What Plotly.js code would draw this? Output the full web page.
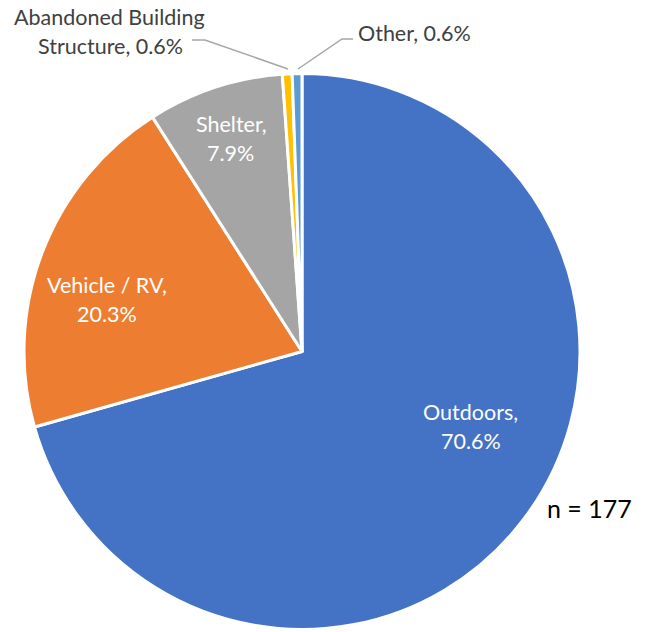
<!DOCTYPE html>
<html><head><meta charset="utf-8">
<script src="https://cdn.plot.ly/plotly-3.0.1.min.js"></script>
<style>html,body{margin:0;padding:0;background:#fff}</style>
</head><body><div id="chart" style="width:653px;height:632px"></div>
<script>
const labels = ['Outdoors', 'Vehicle / RV', 'Shelter', 'Abandoned Building Structure', 'Other'];
const counts = [125, 36, 14, 1, 1];
const colors = ['#4472C4', '#ED7D31', '#A5A5A5', '#FFC000', '#5B9BD5'];
const sampleNote = 'n = 177';

const total = counts.reduce((a, b) => a + b, 0);
const pct = counts.map(c => (c / total * 100).toFixed(1) + '%');

const W = 653, H = 632;
const px = x => x / W, py = y => 1 - y / H;

// label line splits and positions (pixels)
const labelLines = [
  [labels[0] + ',', pct[0]],
  [labels[1] + ',', pct[1]],
  [labels[2] + ',', pct[2]],
  ['Abandoned Building', 'Structure, ' + pct[3]],
  [labels[4] + ', ' + pct[4]]
];
const labelPos = [
  [[470, 412], [471, 441]],
  [[107, 285], [107, 314]],
  [[231, 124], [230, 153]],
  [[109, 17], [110, 46]],
  [[415, 33]]
];
const inside = [true, true, true, false, false];
const FONT = 'Lato, "Open Sans", sans-serif';

const annotations = [];
labelLines.forEach((lines, i) => {
  lines.forEach((t, j) => {
    const p = labelPos[i][j];
    annotations.push({
      text: t, xref: 'paper', yref: 'paper', x: px(p[0]), y: py(p[1]),
      xanchor: 'center', yanchor: 'middle', showarrow: false,
      font: {family: FONT, size: 21.5, color: inside[i] ? '#FFFFFF' : '#404040'}
    });
  });
});
annotations.push({
  text: sampleNote, xref: 'paper', yref: 'paper', x: px(589), y: py(508),
  xanchor: 'center', yanchor: 'middle', showarrow: false,
  font: {family: FONT, size: 25, color: '#000000'}
});

const lp = pts => 'M ' + pts.map(p => px(p[0]) + ',' + py(p[1])).join(' L ');
const shapes = [
  {type: 'path', xref: 'paper', yref: 'paper', path: lp([[192, 40], [205, 40], [288, 69]]),
   line: {color: '#A6A6A6', width: 1.5}},
  {type: 'path', xref: 'paper', yref: 'paper', path: lp([[353, 39], [342, 39], [298, 69]]),
   line: {color: '#A6A6A6', width: 1.5}}
];

const trace = {
  type: 'pie', labels: labels, values: counts, sort: false,
  direction: 'clockwise', rotation: 0, textinfo: 'none', hoverinfo: 'label+percent',
  marker: {colors: colors, line: {color: '#FFFFFF', width: 3}},
  domain: {x: [24 / W, 580 / W], y: [py(630), py(73)]},
  showlegend: false
};

Plotly.newPlot('chart', [trace], {
  width: W, height: H, margin: {l: 0, r: 0, t: 0, b: 0},
  paper_bgcolor: '#FFFFFF', plot_bgcolor: '#FFFFFF',
  annotations: annotations, shapes: shapes, showlegend: false
}, {displayModeBar: false, staticPlot: true});
</script></body></html>
